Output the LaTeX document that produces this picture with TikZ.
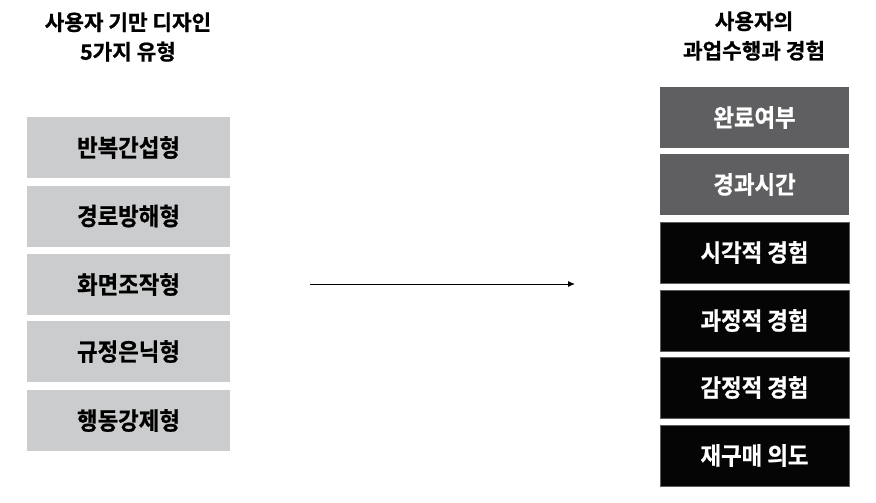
\documentclass[tikz,border=0pt]{standalone}
\usepackage{fontspec}
\setmainfont[FakeBold=0.8]{Noto Sans CJK KR Bold}
\newfontfamily\boxfont[FakeStretch=0.92,FakeBold=0.8]{Noto Sans CJK KR Bold}
\usetikzlibrary{arrows.meta}
\definecolor{lightbox}{HTML}{CBCCCD}
\definecolor{midbox}{HTML}{5F5F61}
\definecolor{darkbox}{HTML}{050505}
\tikzset{
  x=1pt, y=-1pt,
  title/.style={align=center, font=\fontsize{21.3}{29.5}\selectfont, text=black},
  lbox/.style={fill=lightbox, minimum width=203pt, minimum height=61pt, inner sep=0pt, text=black, font=\boxfont\fontsize{24.3}{26}\selectfont},
  mbox/.style={fill=midbox, minimum width=189pt, minimum height=61pt, inner sep=0pt, text=white, font=\boxfont\fontsize{24.3}{26}\selectfont},
  dbox/.style={fill=darkbox, draw=midbox, line width=0.6pt, minimum width=189pt, minimum height=61pt, inner sep=0pt, text=white, font=\boxfont\fontsize{24.3}{26}\selectfont},
  conn/.style={-{Latex[length=7pt,width=6pt]}, line width=1pt}
}
\begin{document}
\begin{tikzpicture}
\useasboundingbox (0,0) rectangle (876,503);
\node[title] (lt) at (128,37) {사용자 기만 디자인\\5가지 유형};
\node[title] (rt) at (754,36) {사용자의\\과업수행과 경험};
\node[lbox] (l1) at (128.5,147.5) {반복간섭형};
\node[lbox] (l2) at (128.5,216) {경로방해형};
\node[lbox] (l3) at (128.5,284.5) {화면조작형};
\node[lbox] (l4) at (128.5,351.5) {규정은닉형};
\node[lbox] (l5) at (128.5,420.5) {행동강제형};
\node[mbox] (r1) at (754.5,117.5) {완료여부};
\node[mbox] (r2) at (754.5,184.5) {경과시간};
\node[dbox] (r3) at (754.5,252.5) {시각적 경험};
\node[dbox] (r4) at (754.5,320.5) {과정적 경험};
\node[dbox] (r5) at (754.5,387.5) {감정적 경험};
\node[dbox] (r6) at (754.5,455.5) {재구매 의도};
\coordinate (as) at (310,284);
\coordinate (ae) at (575,284);
\draw[conn] (as) -- (ae);
\end{tikzpicture}
\end{document}
